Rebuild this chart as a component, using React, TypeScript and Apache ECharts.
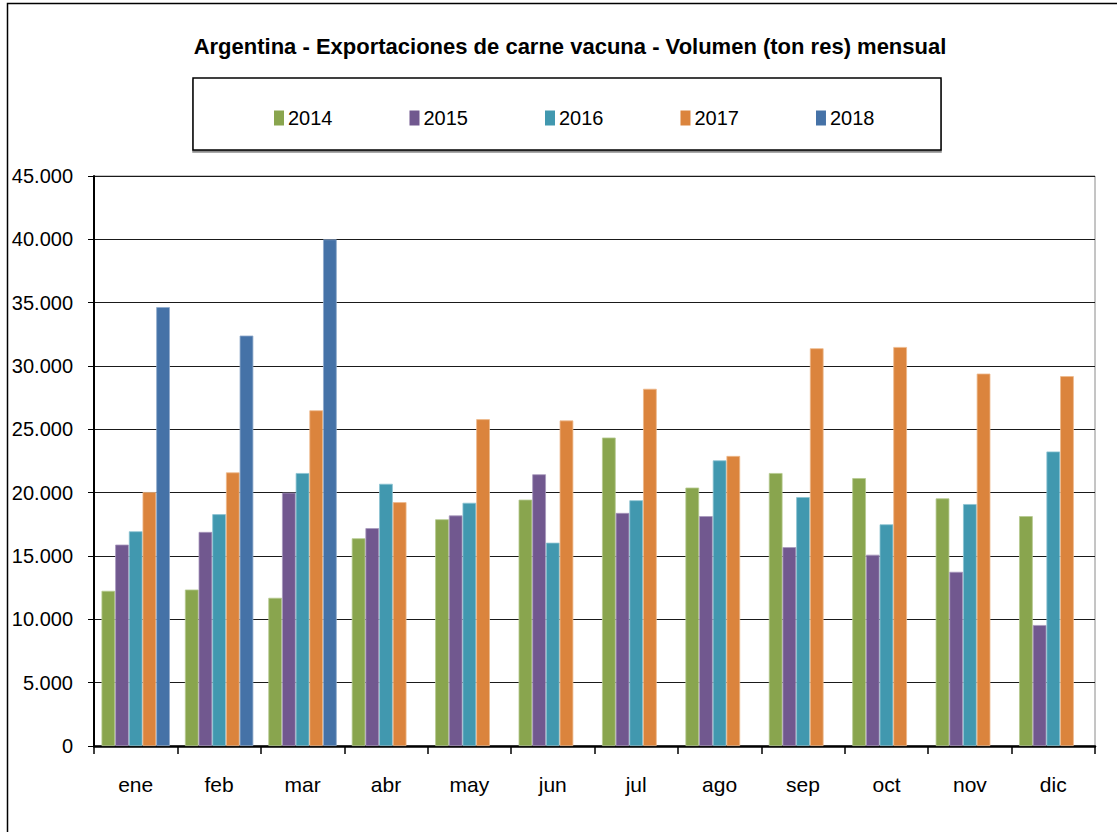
import React, { useEffect, useRef } from "react";
import * as echarts from "echarts";

const months = ["ene", "feb", "mar", "abr", "may", "jun", "jul", "ago", "sep", "oct", "nov", "dic"];
const years = ["2014", "2015", "2016", "2017", "2018"];
const v2014 = [12250, 12350, 11700, 16400, 17900, 19450, 24350, 20400, 21550, 21150, 19550, 18150];
const v2015 = [15900, 16900, 20000, 17200, 18200, 21450, 18400, 18150, 15700, 15100, 13750, 9550];
const v2016 = [16950, 18300, 21550, 20700, 19200, 16050, 19400, 22550, 19650, 17500, 19100, 23250];
const v2017 = [20050, 21600, 26500, 19250, 25800, 25700, 28200, 22900, 31400, 31500, 29400, 29200];
const v2018 = [34650, 32400, 40000, null, null, null, null, null, null, null, null, null];
const yTicks = [0, 5000, 10000, 15000, 20000, 25000, 30000, 35000, 40000, 45000];

const colors = ["#89A54E", "#71588F", "#4198AF", "#DB843D", "#4572A7"];
const edge = ["#B5C98F", "#A898BC", "#8CC3D2", "#EDB98C", "#8FA9CB"];
const FONT = "'Liberation Sans', Arial, sans-serif";

function fmt(v: number): string {
  const s = String(Math.round(v));
  return s.replace(/\B(?=(\d{3})+(?!\d))/g, ".");
}

export default function App() {
  const ref = useRef<HTMLDivElement>(null);
  useEffect(() => {
    document.body.style.margin = "0";
    if (!ref.current) return;
    const chart = echarts.init(ref.current, null, { renderer: "svg" });
    const seriesData = [v2014, v2015, v2016, v2017, v2018];
    chart.setOption({
      animation: false,
      backgroundColor: "#ffffff",
      title: {
        text: "Argentina - Exportaciones de carne vacuna - Volumen (ton res) mensual",
        left: 565,
        textAlign: "center",
        top: 30,
        textStyle: { fontFamily: FONT, fontWeight: "bold", fontSize: 22, color: "#000" },
      },
      graphic: [
        {
          type: "rect",
          shape: { x: 7.5, y: 3.5, width: 1200, height: 900 },
          style: { fill: "none", stroke: "#000", lineWidth: 1.5 },
          silent: true,
        },
        {
          type: "rect",
          shape: { x: 193, y: 78, width: 748, height: 72 },
          style: { fill: "#fff", stroke: "#000", lineWidth: 1.5, shadowColor: "rgba(0,0,0,0.45)", shadowOffsetY: 2, shadowOffsetX: 0, shadowBlur: 0 },
          silent: true,
          z: -1,
        },
      ],
      legend: {
        data: years,
        left: 269,
        top: 103,
        itemWidth: 10,
        itemHeight: 15,
        itemGap: 77,
        icon: "rect",
        itemStyle: { borderWidth: 0 },
        textStyle: { fontFamily: FONT, fontSize: 20, color: "#000", padding: [0, 0, 0, -1] },
      },
      grid: {
        left: 94,
        right: 22,
        top: 176,
        bottom: 86,
        show: true,
        borderColor: "#8a8a8a",
        borderWidth: 1,
      },
      xAxis: {
        type: "category",
        data: months,
        axisLine: { lineStyle: { color: "#000", width: 2.5 } },
        axisTick: { show: true, length: 8, lineStyle: { color: "#000", width: 1.5 } },
        axisLabel: { fontFamily: FONT, fontSize: 21, color: "#000", margin: 28 },
      },
      yAxis: {
        type: "value",
        min: 0,
        max: 45000,
        interval: 5000,
        axisLine: { show: true, lineStyle: { color: "#000", width: 2 } },
        axisTick: { show: true, length: 6, lineStyle: { color: "#000", width: 1 } },
        splitLine: { lineStyle: { color: "#1a1a1a", width: 1.2 } },
        axisLabel: {
          fontFamily: FONT,
          fontSize: 20,
          color: "#000",
          margin: 21,
          formatter: (v: number) => (yTicks.includes(v) ? fmt(v) : ""),
        },
      },
      series: years.map((y, i) => ({
        name: y,
        type: "bar",
        data: seriesData[i],
        barGap: "0%",
        barCategoryGap: "18%",
        itemStyle: { color: colors[i], borderColor: edge[i], borderWidth: 0.8 },
      })),
    });
    return () => chart.dispose();
  }, []);
  return <div ref={ref} style={{ width: 1117, height: 832 }} />;
}
